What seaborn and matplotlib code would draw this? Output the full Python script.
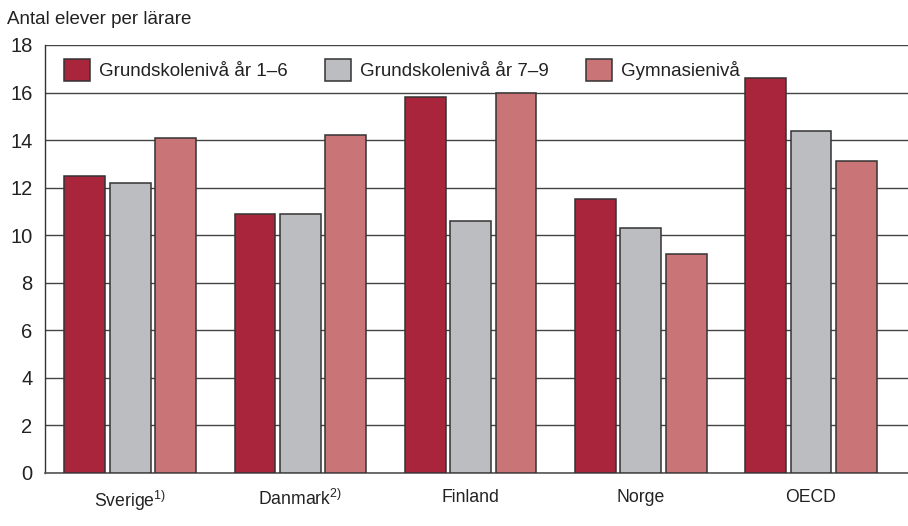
import pandas as pd
import matplotlib.pyplot as plt
import seaborn as sns

COUNTRIES = ["Sverige", "Danmark", "Finland", "Norge", "OECD"]
TICK_LABELS = [r"Sverige$^{\mathregular{1)}}$", r"Danmark$^{\mathregular{2)}}$", "Finland", "Norge", "OECD"]
LEVELS = ["Grundskolenivå år 1–6", "Grundskolenivå år 7–9", "Gymnasienivå"]
GRADES_1_6 = [12.5, 10.9, 15.8, 11.5, 16.6]
GRADES_7_9 = [12.2, 10.9, 10.6, 10.3, 14.4]
GYMNASIUM = [14.1, 14.2, 16.0, 9.2, 13.1]
COLORS = ["#A8253C", "#BCBDC1", "#C97577"]


def build_frame():
    rows = []
    for level, vals in zip(LEVELS, [GRADES_1_6, GRADES_7_9, GYMNASIUM]):
        for country, v in zip(COUNTRIES, vals):
            rows.append({"land": country, "niva": level, "varde": v})
    return pd.DataFrame(rows)


def plot_chart(df):
    sns.set_style("white")
    plt.rcParams["font.family"] = ["Liberation Sans", "DejaVu Sans"]
    fig = plt.figure(figsize=(9.08, 5.26), dpi=100)
    ax = fig.add_axes([45 / 908, 1 - 472.7 / 526, 1 - 45 / 908, (472.7 - 45) / 526])

    sns.barplot(data=df, x="land", y="varde", hue="niva", hue_order=LEVELS,
                palette=COLORS, width=0.8, gap=0.1, edgecolor="#333333",
                linewidth=1.1, saturation=1, errorbar=None, ax=ax, zorder=3)

    ax.set_ylim(0, 18)
    ax.set_xlim(-0.5, 4.57)
    ax.set_yticks(range(0, 19, 2))
    ax.set_xticks(range(len(COUNTRIES)))
    ax.set_xticklabels(TICK_LABELS)
    ax.yaxis.grid(True, color="#444444", linewidth=1.0, zorder=0)
    ax.set_axisbelow(True)
    for side in ["right", "top"]:
        ax.spines[side].set_visible(False)
    ax.spines["left"].set_color("#333333")
    ax.spines["bottom"].set_color("#555555")
    ax.spines["left"].set_linewidth(1.0)
    ax.spines["bottom"].set_linewidth(1.2)
    ax.tick_params(axis="y", length=0, labelsize=14.5, colors="#222222", pad=9)
    ax.tick_params(axis="x", length=0, labelsize=12.7, colors="#222222", pad=12)
    ax.set_xlabel("")
    ax.set_ylabel("")

    leg = ax.legend(loc="upper left", ncol=3, frameon=False, fontsize=13.5,
                    handlelength=1.4, handleheight=1.4, handletextpad=0.45,
                    columnspacing=2.0, bbox_to_anchor=(0.007, 0.997),
                    borderaxespad=0.3)
    for t in leg.get_texts():
        t.set_color("#222222")

    fig.text(7 / 908, 1 - 19 / 526, "Antal elever per lärare", fontsize=13.5,
             color="#222222", va="center", ha="left")
    fig.savefig("out.png", dpi=100)


if __name__ == "__main__":
    plot_chart(build_frame())
